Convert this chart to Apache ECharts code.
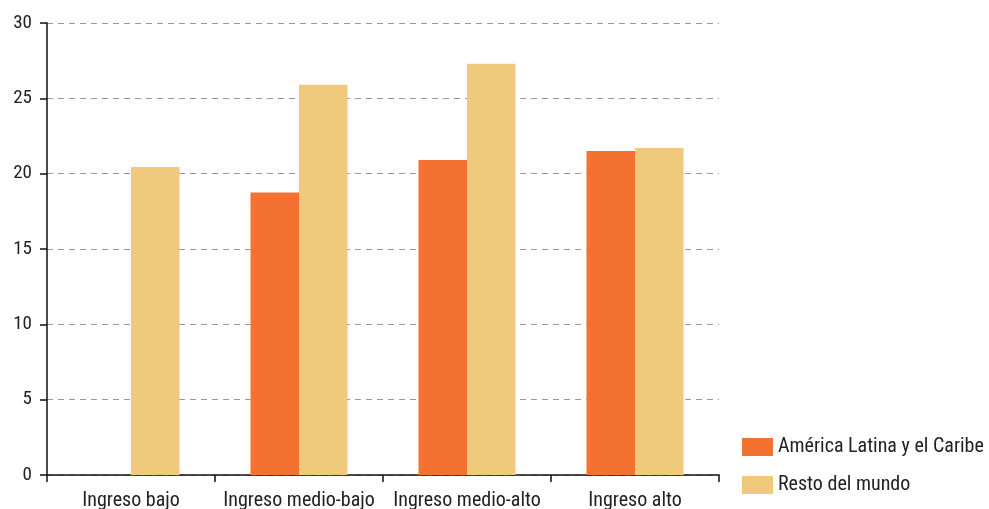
<!DOCTYPE html>
<html>
<head>
<meta charset="utf-8">
<script src="https://cdn.jsdelivr.net/npm/echarts@6/dist/echarts.min.js"></script>
<style>
html,body{margin:0;padding:0;background:#fff;}
#chart{width:989px;height:509px;}
</style>
</head>
<body>
<div id="chart"></div>
<script>
const categories = ['Ingreso bajo', 'Ingreso medio-bajo', 'Ingreso medio-alto', 'Ingreso alto'];
const seriesNames = ['América Latina y el Caribe', 'Resto del mundo'];
const alcValues = [null, 18.75, 20.9, 21.5];
const restoValues = [20.45, 25.9, 27.3, 21.7];
const yTicks = [0, 5, 10, 15, 20, 25, 30];

const FONT = '"Roboto Condensed", "Liberation Sans Narrow", Roboto, sans-serif';
const chart = echarts.init(document.getElementById('chart'));
chart.setOption({
  animation: false,
  textStyle: { fontFamily: FONT },
  grid: { left: 47, right: 270, top: 23, bottom: 34, containLabel: false, outerBoundsMode: 'none' },
  legend: {
    orient: 'vertical',
    left: 737,
    top: 432,
    itemWidth: 31,
    itemHeight: 18,
    itemGap: 18,
    icon: 'rect',
    textStyle: { fontFamily: FONT, fontSize: 20, color: '#222', padding: [0, 0, 0, 0] },
    data: seriesNames
  },
  xAxis: {
    type: 'category',
    data: categories,
    axisLine: { lineStyle: { color: '#111', width: 1.5 } },
    axisTick: { show: true, interval: 0, length: 7, lineStyle: { color: '#111', width: 1.5 } },
    axisLabel: { interval: 0, fontFamily: FONT, fontSize: 20, color: '#222', margin: 16 }
  },
  yAxis: {
    type: 'value',
    min: yTicks[0],
    max: yTicks[yTicks.length - 1],
    interval: 5,
    axisLine: { show: true, lineStyle: { color: '#111', width: 1.5 } },
    axisTick: { show: true, length: 7, lineStyle: { color: '#111', width: 1.5 } },
    axisLabel: { fontFamily: FONT, fontSize: 19, color: '#222', margin: 15 },
    splitLine: { show: true, lineStyle: { color: '#999', type: [6, 5], width: 1 } }
  },
  series: [
    {
      name: seriesNames[0],
      type: 'bar',
      data: alcValues,
      barWidth: 48.5,
      barGap: '0%',
      itemStyle: { color: '#F37231' }
    },
    {
      name: seriesNames[1],
      type: 'bar',
      data: restoValues,
      barWidth: 48.5,
      barGap: '0%',
      itemStyle: { color: '#F0CA7C' }
    }
  ]
});
</script>
</body>
</html>
